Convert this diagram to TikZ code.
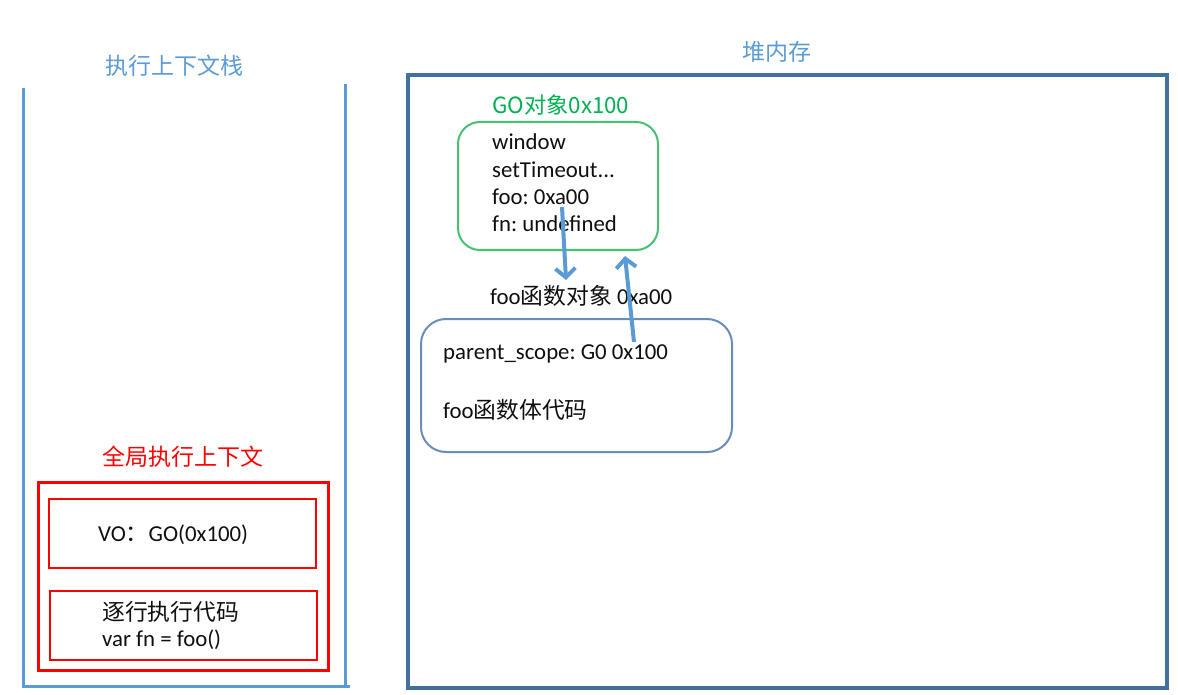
\documentclass[tikz,border=0pt]{standalone}
\usepackage{fontspec}
\setmainfont{Carlito}
\newfontfamily\cjk{Noto Sans CJK SC}
\usetikzlibrary{arrows.meta}
\frenchspacing
\definecolor{stackblue}{HTML}{5B9BD5}
\definecolor{heapblue}{HTML}{41719C}
\definecolor{gogreen}{HTML}{00B050}
\definecolor{goline}{HTML}{45C271}
\definecolor{fooline}{HTML}{6A8CB8}
\definecolor{arrblue}{HTML}{5B9BD5}
\definecolor{txt}{HTML}{0F0F0F}
\tikzset{
  stackline/.style={draw=stackblue, line width=3pt},
  title/.style={font=\cjk\fontsize{23}{27}\selectfont, inner sep=0pt},
  txtnode/.style={anchor=west, inner sep=0pt, text=txt, font=\fontsize{22.8}{27}\selectfont},
  box/.style={inner sep=0pt},
  arr/.style={draw=arrblue, line width=4pt, -{Straight Barb[length=9pt,width=20pt,line width=4pt]}},
}
\begin{document}
\begin{tikzpicture}[x=1pt,y=-1pt]
\useasboundingbox (0,0) rectangle (1178,695);
% execution context stack
\draw[stackline] (23,88) -- (23,686);
\draw[stackline] (345,84) -- (345,686);
\draw[stackline] (22,686) -- (350,686);
\node[title, text=stackblue] (stacktitle) at (174,66) {执行上下文栈};
% heap
\node[title, text=stackblue] (heaptitle) at (777,52) {堆内存};
\node[box, draw=heapblue, line width=3.2pt, minimum width=759pt, minimum height=613pt] (heap) at (787.5,381.5) {};
% GO object
\node[title, text=gogreen, anchor=west, font=\cjk\fontsize{22.3}{27}\selectfont] (golabel) at (492,105) {GO对象0x100};
\node[box, draw=goline, line width=2pt, rounded corners=22pt, minimum width=200pt, minimum height=128pt] (gobox) at (558,186) {};
\node[txtnode] (w) at (492,142) {window};
\node[txtnode] (st) at (492,170) {setTimeout...};
\node[txtnode] (foo) at (492,197) {foo: 0xa00};
\node[txtnode] (fn) at (492,224) {fn: undefined};
% foo object
\node[txtnode] (foolabel) at (490,296) {foo{\cjk 函数对象} 0xa00};
\node[box, draw=fooline, line width=2pt, rounded corners=25pt, minimum width=311pt, minimum height=133pt] (foobox) at (576.5,385.5) {};
\node[txtnode] (ps) at (443,354) {parent\_scope: G0 0x100};
\node[txtnode] (body) at (443,410) {foo{\cjk 函数体代码}};
% arrows
\coordinate (a1s) at (562,207);
\coordinate (a1e) at (566,280);
\coordinate (a2s) at (634,342);
\coordinate (a2e) at (625,256);
\draw[arr] (a1s) -- (a1e);
\draw[arr] (a2s) -- (a2e);
% global execution context
\node[title, text=red] (gctitle) at (183,457) {全局执行上下文};
\node[box, draw=red, line width=3pt, minimum width=290pt, minimum height=188pt] (gc) at (183,576) {};
\node[box, draw=red, line width=2.2pt, minimum width=267pt, minimum height=69pt] (vo) at (182.5,533.5) {};
\node[box, draw=red, line width=2.2pt, minimum width=267pt, minimum height=69pt] (code) at (183.5,625.5) {};
\node[txtnode] (votext) at (98,535) {VO{\cjk ：}GO(0x100)};
\node[txtnode, font=\cjk\fontsize{22.8}{27}\selectfont] (codetitle) at (102,612) {逐行执行代码};
\node[txtnode] (codeline) at (102,640) {var fn = foo()};
\end{tikzpicture}
\end{document}
